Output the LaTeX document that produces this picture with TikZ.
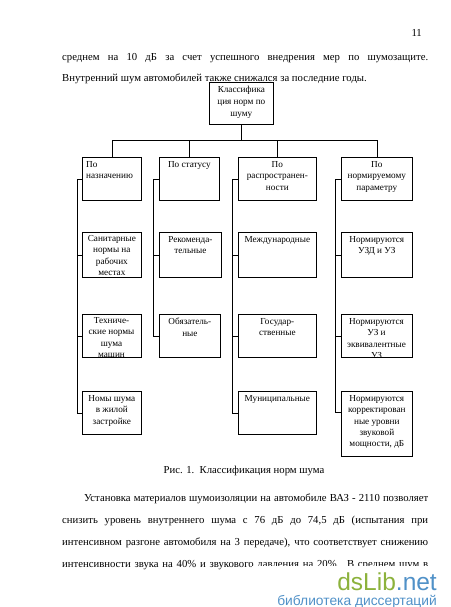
\documentclass[tikz,border=0pt]{standalone}
\usepackage{fontspec}
\setmainfont{Liberation Serif}
\newfontfamily\wmfont{Liberation Sans}
\definecolor{wmgreen}{RGB}{140,178,60}
\definecolor{wmblue}{RGB}{80,145,200}
\begin{document}
\begin{tikzpicture}[x=1pt,y=-1pt,
  box/.style={draw, line width=0.7pt, inner sep=0pt, anchor=north west},
  lab/.style={anchor=north, align=center, inner sep=0pt, font=\fontsize{9.2}{11.4}\selectfont},
  body/.style={anchor=base west, inner sep=0pt, font=\fontsize{10.7}{13}\selectfont},
  conn/.style={line width=0.7pt}]
\useasboundingbox (0,0) rectangle (450,607);
\fill[white] (0,0) rectangle (450,607);

% page text
\node[body, anchor=base east] (pg) at (422,37) {11};
\node[body] (l1) at (62,61) {\makebox[366pt][s]{среднем на 10 дБ за счет успешного внедрения мер по шумозащите.}};
\node[body] (l2) at (62,82) {Внутренний шум автомобилей также снижался за последние годы.};

% top box
\node[box, minimum width=64pt, minimum height=42pt] (top) at (209,82) {};
\node[lab, font=\fontsize{9.2}{12}\selectfont] (topt) at ([yshift=-4pt]top.north) {Классифика\\ция норм по\\шуму};

% level 1
\node[box, minimum width=59pt, minimum height=43pt] (b1) at (82,157) {};
\node[lab, anchor=north west, align=left] (b1t) at ([xshift=4pt,yshift=-4pt]b1.north west) {По\\назначению};
\node[box, minimum width=60pt, minimum height=43pt] (b2) at (159,157) {};
\node[lab] (b2t) at ([yshift=-4pt]b2.north) {По статусу};
\node[box, minimum width=78pt, minimum height=43pt] (b3) at (238,157) {};
\node[lab] (b3t) at ([yshift=-4pt]b3.north) {По\\распространен-\\ности};
\node[box, minimum width=71pt, minimum height=43pt] (b4) at (341,157) {};
\node[lab] (b4t) at ([yshift=-4pt]b4.north) {По\\нормируемому\\параметру};

% column 1
\node[box, minimum width=59pt, minimum height=45pt] (c1a) at (82,232) {};
\node[lab] (c1at) at ([yshift=-3pt]c1a.north) {Санитарные\\нормы на\\рабочих\\местах};
\begin{scope}
\clip (82,314) rectangle (141,357);
\node[lab] (c1bt) at (111.5,317) {Техниче-\\ские нормы\\шума\\машин};
\end{scope}
\node[box, minimum width=59pt, minimum height=43pt] (c1b) at (82,314) {};
\node[box, minimum width=59pt, minimum height=43pt] (c1c) at (82,391) {};
\node[lab] (c1ct) at ([yshift=-4pt]c1c.north) {Номы шума\\в жилой\\застройке};

% column 2
\node[box, minimum width=62pt, minimum height=45pt] (c2a) at (159,232) {};
\node[lab] (c2at) at ([yshift=-4pt]c2a.north) {Рекоменда-\\тельные};
\node[box, minimum width=61pt, minimum height=43pt] (c2b) at (159,314) {};
\node[lab] (c2bt) at ([yshift=-4pt]c2b.north) {Обязатель-\\ные};

% column 3
\node[box, minimum width=78pt, minimum height=45pt] (c3a) at (238,232) {};
\node[lab] (c3at) at ([yshift=-4pt]c3a.north) {Международные};
\node[box, minimum width=78pt, minimum height=43pt] (c3b) at (238,314) {};
\node[lab] (c3bt) at ([yshift=-4pt]c3b.north) {Государ-\\ственные};
\node[box, minimum width=78pt, minimum height=43pt] (c3c) at (238,391) {};
\node[lab] (c3ct) at ([yshift=-4pt]c3c.north) {Муниципальные};

% column 4
\node[box, minimum width=71pt, minimum height=45pt] (c4a) at (341,232) {};
\node[lab] (c4at) at ([yshift=-4pt]c4a.north) {Нормируются\\УЗД и УЗ};
\begin{scope}
\clip (341,314) rectangle (412,357);
\node[lab] (c4bt) at (376.5,318) {Нормируются\\УЗ и\\эквивалентные\\УЗ};
\end{scope}
\node[box, minimum width=71pt, minimum height=43pt] (c4b) at (341,314) {};
\node[box, minimum width=71pt, minimum height=65pt] (c4c) at (341,391) {};
\node[lab] (c4ct) at ([yshift=-4pt]c4c.north) {Нормируются\\корректирован\\ные уровни\\звуковой\\мощности, дБ};

% connectors
\coordinate (bus) at (0,140);
\draw[conn] (top.south) -- (top.south |- bus);
\draw[conn] (b1.north) -- (b1.north |- bus) -- (b4.north |- bus) -- (b4.north);
\draw[conn] (b2.north) -- (b2.north |- bus);
\draw[conn] (b3.north) -- (b3.north |- bus);

\coordinate (t1) at (77,0);
\coordinate (t2) at (153,0);
\coordinate (t3) at (232,0);
\coordinate (t4) at (335,0);
\coordinate (c4cs) at (341,412);

\draw[conn] (b1.west) -| (t1 |- c1c.west) -- (c1c.west);
\draw[conn] (c1a.west) -- (t1 |- c1a.west);
\draw[conn] (c1b.west) -- (t1 |- c1b.west);

\draw[conn] (b2.west) -| (t2 |- c2b.west) -- (c2b.west);
\draw[conn] (c2a.west) -- (t2 |- c2a.west);

\draw[conn] (b3.west) -| (t3 |- c3c.west) -- (c3c.west);
\draw[conn] (c3a.west) -- (t3 |- c3a.west);
\draw[conn] (c3b.west) -- (t3 |- c3b.west);

\draw[conn] (b4.west) -| (t4 |- c4cs) -- (c4cs);
\draw[conn] (c4a.west) -- (t4 |- c4a.west);
\draw[conn] (c4b.west) -- (t4 |- c4b.west);

% caption
\node[body, anchor=base] (cap) at (244,473) {Рис. 1.\ \ Классификация норм шума};

% paragraph
\node[body] (p1) at (84,501) {\makebox[344pt][s]{Установка материалов шумоизоляции на автомобиле ВАЗ - 2110 позволяет}};
\node[body] (p2) at (62,523) {\makebox[366pt][s]{снизить уровень внутреннего шума с 76 дБ до 74,5 дБ (испытания при}};
\node[body] (p3) at (62,545) {\makebox[366pt][s]{интенсивном разгоне автомобиля на 3 передаче), что соответствует снижению}};
\node[body] (p4) at (62,567) {\makebox[366pt][s]{интенсивности звука на 40\% и звукового давления на 20\%.\ \ В среднем шум в}};
\fill[white] (252,566) rectangle (450,607);

% watermark
\node[anchor=base east, inner sep=0pt, font=\wmfont\fontsize{24.5}{25}\selectfont] (wm1) at (437,590) {\textcolor{wmgreen}{dsLib}\textcolor{wmblue}{.net}};
\node[anchor=base east, inner sep=0pt, font=\wmfont\fontsize{13.8}{14}\selectfont, text=wmblue] (wm2) at (437,605) {библиотека диссертаций};
\end{tikzpicture}
\end{document}
